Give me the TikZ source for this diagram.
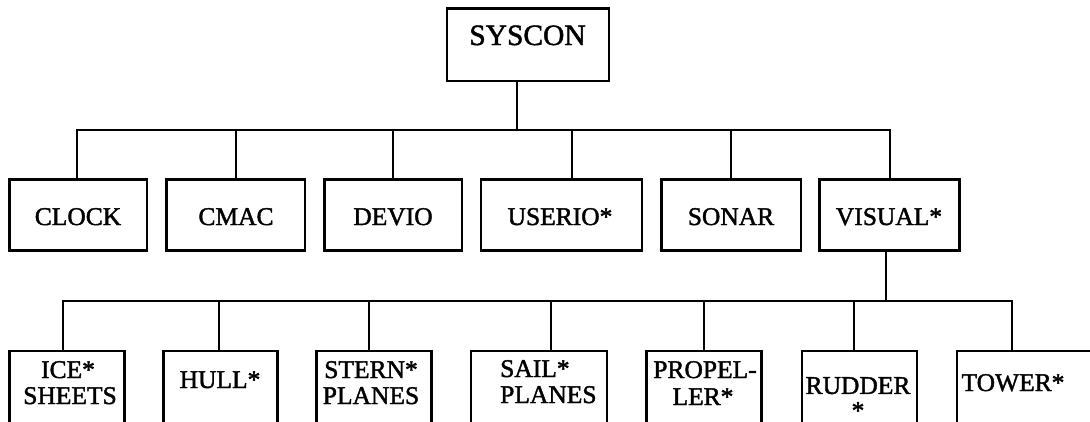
\documentclass[tikz,border=0pt]{standalone}
\usepackage{fontspec}
\setmainfont[FakeBold=1.6]{Liberation Serif}
\begin{document}
\begin{tikzpicture}[x=1pt,y=-1pt,
  box/.style={draw, line width=2.8pt, inner sep=0pt, outer sep=0pt, rectangle},
  wire/.style={line width=2.9pt},
  txt/.style={inner sep=0pt, anchor=base, font=\fontsize{25.5}{28}\selectfont},
  txtl/.style={inner sep=0pt, anchor=base west, font=\fontsize{25.5}{28}\selectfont},
  big/.style={inner sep=0pt, anchor=base, font=\fontsize{29.5}{32}\selectfont}]
\useasboundingbox (0,0) rectangle (1090,421);
\clip (0,0) rectangle (1090,421);
% ---- boxes ----
\node[box, minimum width=162pt, minimum height=72.5pt] (syscon) at (528,44.75) {};
\node[box, minimum width=137.5pt, minimum height=71pt] (clock) at (78.25,215) {};
\node[box, minimum width=138.5pt, minimum height=71pt] (cmac) at (235.75,215) {};
\node[box, minimum width=137.5pt, minimum height=71pt] (devio) at (393.25,215) {};
\node[box, minimum width=161pt, minimum height=71pt] (userio) at (561.5,215) {};
\node[box, minimum width=139.5pt, minimum height=71pt] (sonar) at (731.25,215) {};
\node[box, minimum width=140pt, minimum height=71pt] (visual) at (889.5,215) {};
\node[box, minimum width=115pt, minimum height=90pt] (ice) at (67,396) {};
\node[box, minimum width=114pt, minimum height=90pt] (hull) at (220.5,396) {};
\node[box, minimum width=115pt, minimum height=90pt] (stern) at (374,396) {};
\node[box, minimum width=136pt, minimum height=90pt] (sail) at (539,396) {};
\node[box, minimum width=115pt, minimum height=90pt] (propel) at (704,396) {};
\node[box, minimum width=115pt, minimum height=90pt] (rudder) at (859.5,396) {};
\node[box, minimum width=150pt, minimum height=90pt] (tower) at (1032,396) {};
% ---- texts ----
\node[big] (tsyscon) at (527.5,45) {SYSCON};
\node[txt] (tclock) at (78,225) {CLOCK};
\node[txt] (tcmac) at (236,225) {CMAC};
\node[txt] (tdevio) at (393,225) {DEVIO};
\node[txt] (tuserio) at (560,225) {USERIO*};
\node[txt] (tsonar) at (731,225) {SONAR};
\node[txt] (tvisual) at (889,225) {VISUAL*};
\node[txt] (tice1) at (68,378) {ICE*};
\node[txt] (tice2) at (70,404) {SHEETS};
\node[txt] (thull) at (220,388) {HULL*};
\node[txt] (tstern1) at (371,378) {STERN*};
\node[txt] (tstern2) at (371,404) {PLANES};
\node[txtl] (tsail1) at (500,377) {SAIL*};
\node[txtl] (tsail2) at (500,403) {PLANES};
\node[txt] (tprop1) at (705,378) {PROPEL-};
\node[txt] (tprop2) at (703,405) {LER*};
\node[txt, anchor=north, align=center, font=\fontsize{25.5}{25}\selectfont] (trud) at (858,377) {RUDDER\\*};
\node[txt] (ttower) at (1013,391) {TOWER*};
% ---- level 1 connectors ----
\coordinate (s1) at (517,130);
\coordinate (j1) at (77,130);
\coordinate (j2) at (236,130);
\coordinate (j3) at (393,130);
\coordinate (j4) at (572,130);
\coordinate (j5) at (731,130);
\coordinate (j6) at (890,130);
\draw[wire] (s1) -- (s1 |- syscon.south);
\draw[wire] (j1 |- clock.north) -- (j1) -- (j6) -- (j6 |- visual.north);
\draw[wire] (j2) -- (j2 |- cmac.north);
\draw[wire] (j3) -- (j3 |- devio.north);
\draw[wire] (j4) -- (j4 |- userio.north);
\draw[wire] (j5) -- (j5 |- sonar.north);
% ---- level 2 connectors ----
\coordinate (s2) at (886,301);
\coordinate (k1) at (63,301);
\coordinate (k2) at (219,301);
\coordinate (k3) at (369,301);
\coordinate (k4) at (551,301);
\coordinate (k5) at (704,301);
\coordinate (k6) at (854,301);
\coordinate (k7) at (1012,301);
\draw[wire] (s2) -- (s2 |- visual.south);
\draw[wire] (k1 |- ice.north) -- (k1) -- (k7) -- (k7 |- tower.north);
\draw[wire] (k2) -- (k2 |- hull.north);
\draw[wire] (k3) -- (k3 |- stern.north);
\draw[wire] (k4) -- (k4 |- sail.north);
\draw[wire] (k5) -- (k5 |- propel.north);
\draw[wire] (k6) -- (k6 |- rudder.north);
\end{tikzpicture}
\end{document}
